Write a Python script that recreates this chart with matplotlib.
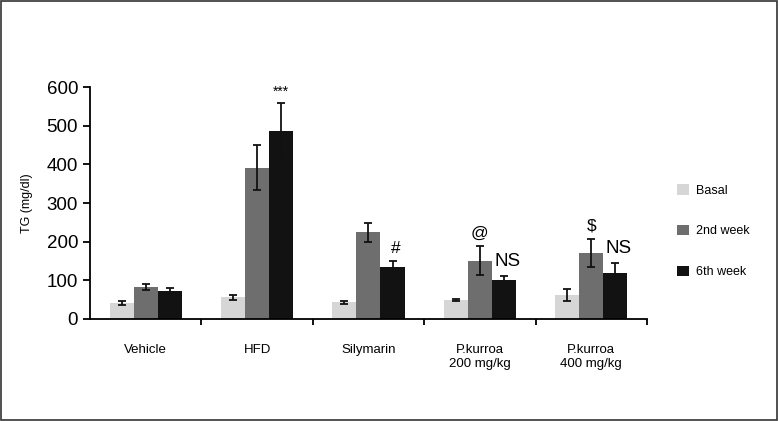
import numpy as np
import matplotlib.pyplot as plt
from matplotlib.patches import Rectangle

plt.rcParams['font.family'] = ['Liberation Sans', 'DejaVu Sans']

groups = ['Vehicle', 'HFD', 'Silymarin', 'P.kurroa\n200 mg/kg', 'P.kurroa\n400 mg/kg']
series = ['Basal', '2nd week', '6th week']
basal = [42, 56, 43, 49, 62]
week2 = [83, 391, 224, 151, 171]
week6 = [72, 486, 134, 102, 120]
basal_err = [5, 6, 3, 3, 15]
week2_err = [8, 58, 24, 38, 37]
week6_err = [7, 72, 16, 10, 25]
colors = ['#d6d6d6', '#6e6e6e', '#121212']

# significance marks: (group, series index, text)
marks = [(1, 2, '***'), (2, 2, '#'), (3, 1, '@'), (4, 1, '$')]
ns_marks = [3, 4]

fig = plt.figure(figsize=(7.79, 4.21), dpi=100)
ax = fig.add_axes([0.1155, 0.2423, 0.715, 0.551])

x = np.arange(len(groups))
w = 0.216
values = [basal, week2, week6]
errs = [basal_err, week2_err, week6_err]
for i in range(3):
    ax.bar(x + (i - 1) * w, values[i], w, color=colors[i], label=series[i],
           yerr=errs[i], capsize=3,
           error_kw=dict(elinewidth=1.3, capthick=1.3, ecolor='#111111'))

for g, s, txt in marks:
    top = values[s][g] + errs[s][g]
    size = 10 if txt == '***' else 12.5
    dx = 0.03 if txt == '#' else 0
    ax.text(x[g] + (s - 1) * w + dx, top + 12, txt, ha='center', va='bottom', fontsize=size)
for g in ns_marks:
    top = week6[g] + week6_err[g]
    ax.text(x[g] + w * 1.15, top + 16, 'NS', ha='center', va='bottom', fontsize=13.5)

ax.set_xlim(-0.5, 4.5)
ax.set_ylim(0, 600)
ax.set_yticks(range(0, 601, 100))
ax.tick_params(axis='y', labelsize=13.5, direction='out', length=5, width=1.3)
ax.set_xticks(x)
ax.set_xticklabels(groups, fontsize=9.5, linespacing=1.2)
ax.tick_params(axis='x', length=0, pad=18)
ax.set_xticks(np.arange(0.5, 4.6, 1), minor=True)
ax.tick_params(axis='x', which='minor', direction='out', length=4, width=1.3)
ax.set_ylabel('TG (mg/dl)', fontsize=9, labelpad=10)
for side in ['top', 'right']:
    ax.spines[side].set_visible(False)
for side in ['left', 'bottom']:
    ax.spines[side].set_linewidth(1.3)

handles, labels = ax.get_legend_handles_labels()
fig.legend(handles, labels, loc='center left', bbox_to_anchor=(0.855, 0.451),
           frameon=False, fontsize=9, handlelength=0.9, handleheight=0.9,
           labelspacing=2.25, handletextpad=0.6)

fig.patches.append(Rectangle((0.001, 0.002), 0.997, 0.996, transform=fig.transFigure,
                             fill=False, edgecolor='#333333', linewidth=1.2))

fig.savefig('out.png', dpi=100)
